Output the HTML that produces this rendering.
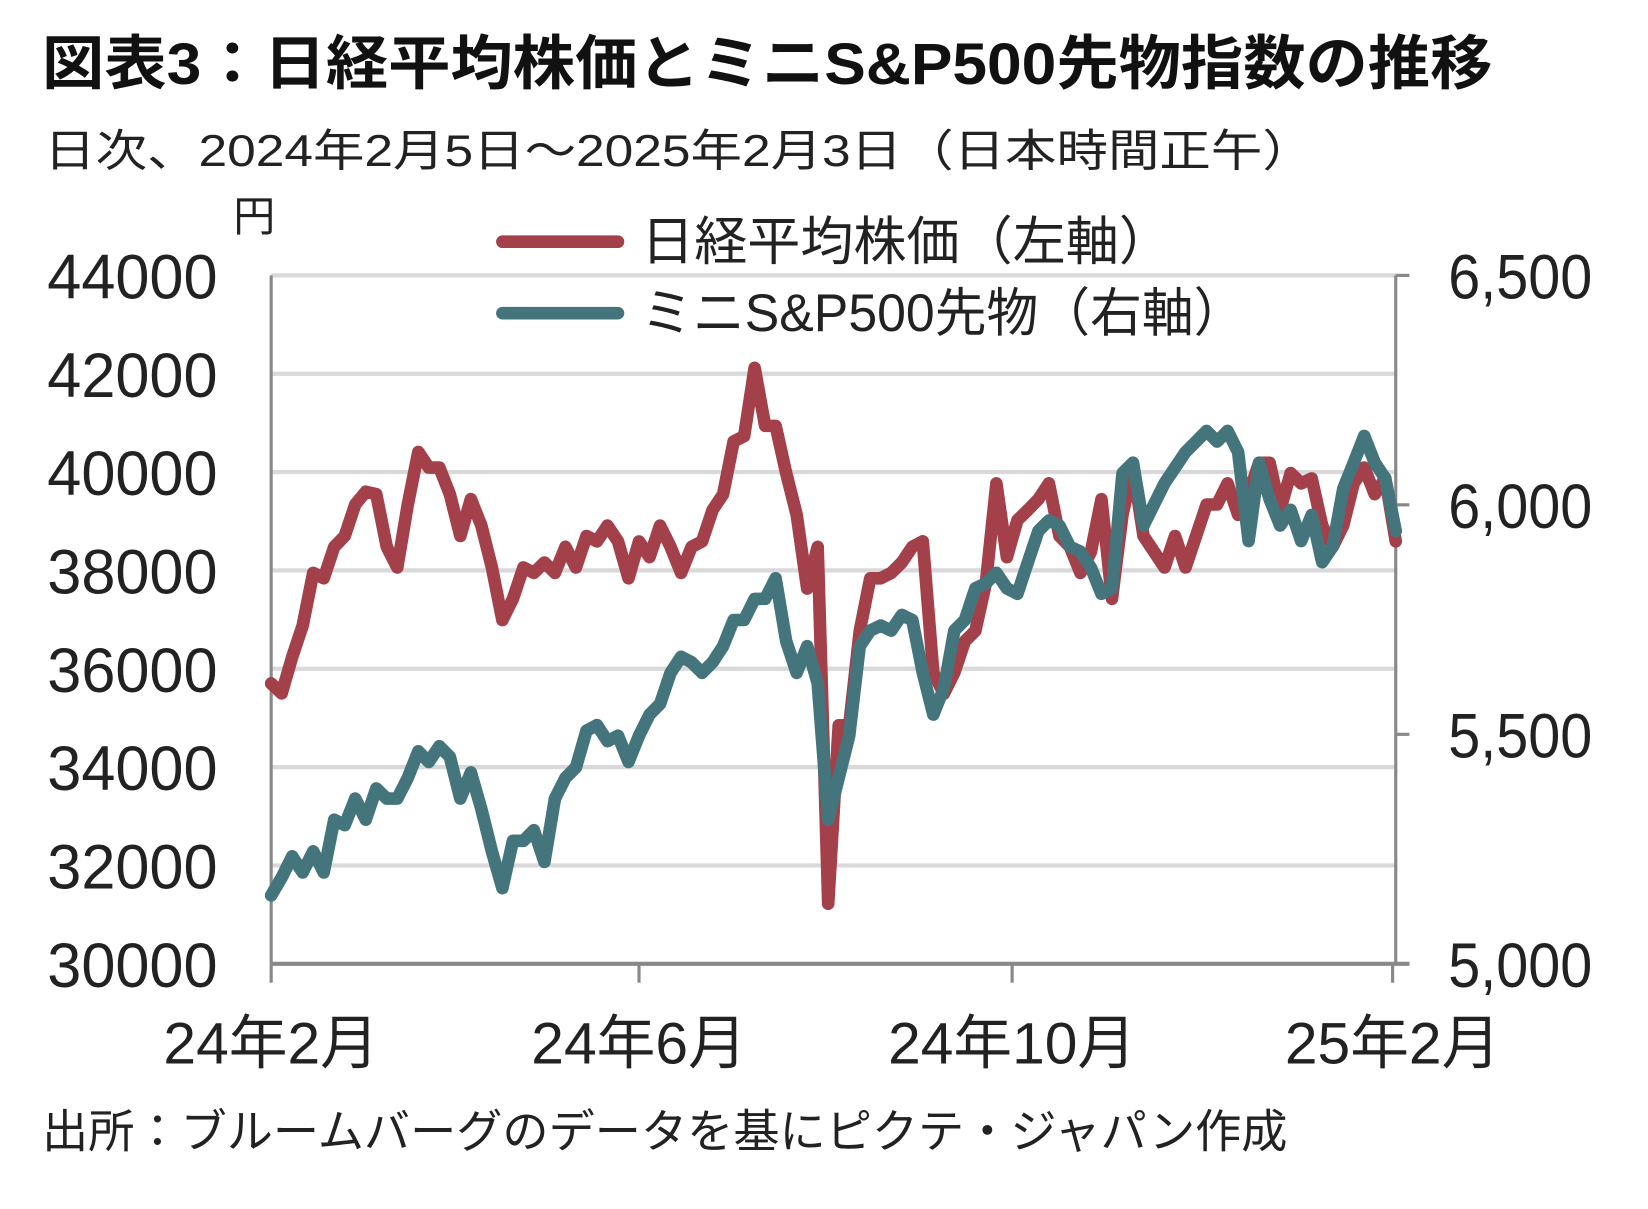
<!DOCTYPE html>
<html lang="ja"><head><meta charset="utf-8">
<style>
html,body{margin:0;padding:0;background:#fff;}
svg{display:block;font-family:"Liberation Sans","Noto Sans CJK JP",sans-serif;}
</style></head>
<body>
<svg id="chart" width="1648" height="1209" viewBox="0 0 1568 1150.3" preserveAspectRatio="none" xmlns="http://www.w3.org/2000/svg">
<rect x="0" y="0" width="1568" height="1151" fill="#fff"/>
<text x="40" y="80" font-size="56" font-weight="bold" fill="#111" textLength="1380" lengthAdjust="spacingAndGlyphs">図表3：日経平均株価とミニS&amp;P500先物指数の推移</text>
<text x="42" y="158" font-size="42" fill="#222" textLength="1208" lengthAdjust="spacingAndGlyphs">日次、2024年2月5日～2025年2月3日（日本時間正午）</text>
<text x="222" y="220" font-size="40" fill="#222">円</text>
<g id="grid"></g>
<g id="axes"></g>
<g id="series"></g>
<g>
  <line x1="478" y1="230" x2="588" y2="230" stroke="#a3404a" stroke-width="12" stroke-linecap="round"/>
  <text x="610" y="247" font-size="50" fill="#222" textLength="505" lengthAdjust="spacingAndGlyphs">日経平均株価（左軸）</text>
  <line x1="478" y1="298" x2="588" y2="298" stroke="#44757c" stroke-width="12" stroke-linecap="round"/>
  <text x="610" y="315" font-size="50" fill="#222" textLength="575" lengthAdjust="spacingAndGlyphs">ミニS&amp;P500先物（右軸）</text>
</g>
<text x="40" y="1092" font-size="44" fill="#222" textLength="1185" lengthAdjust="spacingAndGlyphs">出所：ブルームバーグのデータを基にピクテ・ジャパン作成</text>
</svg>
<script>
const nikkei = [35700,35500,36240,36880,37950,37840,38480,38700,39340,39600,
39550,38480,38060,39340,40410,40090,40090,39550,38700,39450,
38910,38060,36990,37420,38060,37950,38160,37950,38480,38060,
38700,38590,38910,38590,37840,38590,38270,38910,38480,37950,
38480,38590,39230,39550,40620,40730,42120,40940,40940,39980,
39130,37630,38480,31220,
34850,34850,36770,37840,37840,37950,38160,38480,38590,35920,35490,35920,36560,36770,37740,
39770,38270,39020,39230,39450,39770,38700,38480,37950,38380,
39450,37420,39130,40090,38700,38380,38060,38700,38060,38700,
39340,39340,39770,39130,39550,40190,40190,39230,39980,39770,
39870,38910,38480,38910,39770,40090,39550,39870,38590];
const sp500 = [5149,5188,5234,5199,5245,5199,5314,5302,5360,5314,
5382,5360,5360,5405,5463,5440,5474,5451,5360,5417,
5337,5245,5165,5268,5268,5291,5222,5360,5405,5428,
5508,5520,5485,5497,5440,5497,5543,5566,5634,5669,
5657,5634,5657,5692,5749,5749,5795,5795,5840,5703,
5634,5692,5611,5314,
5405,5497,5692,5726,5737,5726,5760,5749,5634,5543,
5600,5726,5749,5818,5829,5852,5818,5806,5875,5943,
5966,5955,5909,5898,5863,5806,5818,6069,6092,5955,
6001,6047,6081,6115,6138,6161,6138,6161,6115,5921,
6092,6012,5955,5989,5921,5978,5875,5909,6035,6092,
6150,6092,6058,5943];
const leftTicks = [30000,32000,34000,36000,38000,40000,42000,44000];
const rightTicks = [5000,5500,6000,6500];
const rightTickLabels = ["5,000","5,500","6,000","6,500"];
const xTickIdx = [0,35,70.5,106.7];
const xTickLabels = ["24年2月","24年6月","24年10月","25年2月"];

const NS = "http://www.w3.org/2000/svg";
const X0 = 258, X1 = 1328, YB = 917, YT = 262;
const N = Math.max(nikkei.length, sp500.length);
const xs = i => X0 + i * (X1 - X0) / (N - 1);
const yL = v => YB - (v - 30000) / (44000 - 30000) * (YB - YT);
const yR = v => YB - (v - 5000) / (6500 - 5000) * (YB - YT);
function mk(tag, attrs, parent) {
  const el = document.createElementNS(NS, tag);
  for (const k in attrs) el.setAttribute(k, attrs[k]);
  parent.appendChild(el);
  return el;
}
const grid = document.getElementById('grid');
const axes = document.getElementById('axes');
const series = document.getElementById('series');

leftTicks.forEach(v => {
  const y = yL(v);
  if (v > 30000) {
    const g = mk('line', {x1: X0, x2: X1, y1: y, y2: y, stroke: '#d9d9d9', 'stroke-width': 4}, grid);
    
    
  }
  const t = mk('text', {x: 207, y: y + 22, 'font-size': 60, 'text-anchor': 'end', fill: '#222', textLength: 162, lengthAdjust: 'spacingAndGlyphs'}, axes);
  t.textContent = String(v);
  
  
});
rightTicks.forEach((v, i) => {
  const y = yR(v);
  const tk = mk('line', {x1: X1, x2: X1 + 13, y1: y, y2: y, stroke: '#888', 'stroke-width': 3}, axes);
  
  
  const t = mk('text', {x: 1378, y: y + 22, 'font-size': 60, fill: '#222', textLength: 137, lengthAdjust: 'spacingAndGlyphs'}, axes);
  t.textContent = rightTickLabels[i];
  
  
});
const la = mk('line', {x1: X0, x2: X0, y1: YT, y2: YB, stroke: '#888', 'stroke-width': 3}, axes);


const ra = mk('line', {x1: X1, x2: X1, y1: YT, y2: YB, stroke: '#888', 'stroke-width': 3}, axes);


const xa = mk('line', {x1: X0, x2: X1 + 13, y1: YB, y2: YB, stroke: '#888', 'stroke-width': 4}, axes);


xTickIdx.forEach((idx, i) => {
  const x = xs(idx);
  const tk = mk('line', {x1: x, x2: x, y1: YB, y2: YB + 18, stroke: '#888', 'stroke-width': 3}, axes);
  
  
  const w = xTickLabels[i].length > 5 ? 236 : 205;
  const t = mk('text', {x: x, y: 1012, 'font-size': 56, 'text-anchor': 'middle', fill: '#222', textLength: w, lengthAdjust: 'spacingAndGlyphs'}, axes);
  t.textContent = xTickLabels[i];
  
  
});
function line(vals, yf, color, name) {
  const d = vals.map((v, i) => (i ? 'L' : 'M') + xs(i).toFixed(1) + ' ' + yf(v).toFixed(1)).join(' ');
  const p = mk('path', {d: d, fill: 'none', stroke: color, 'stroke-width': 12, 'stroke-linejoin': 'round', 'stroke-linecap': 'round'}, series);
  
  
}
line(nikkei, yL, '#a3404a', 'nikkei-line');
line(sp500, yR, '#44757c', 'sp500-line');
</script>
</body></html>
